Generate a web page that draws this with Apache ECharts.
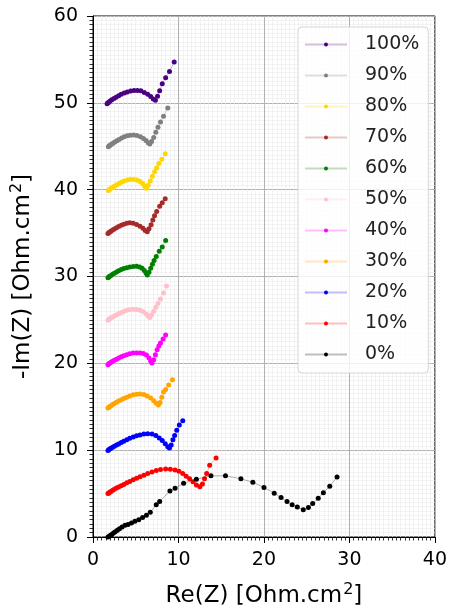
<!DOCTYPE html>
<html>
<head>
<meta charset="utf-8">
<script src="https://cdn.jsdelivr.net/npm/echarts@6/dist/echarts.min.js"></script>
<style>
html,body{margin:0;padding:0;background:#fff;}
#chart{width:450px;height:614px;}
</style>
</head>
<body>
<div id="chart"></div>
<script>
// ---- Data (Re(Z), -Im(Z)) ----
const seriesNames = ['100%','90%','80%','70%','60%','50%','40%','30%','20%','10%','0%'];
const seriesColors = ['#4b0082','#808080','#ffd700','#a52a2a','#008000','#ffc0cb','#ff00ff','#ffa500','#0000ff','#ff0000','#000000'];

const s100 = [[1.65,49.9],[1.75,50.0],[1.85,50.08],[2.0,50.2],[2.2,50.35],[2.45,50.5],[2.7,50.65],[3.0,50.82],[3.3,50.98],[3.65,51.12],[4.0,51.25],[4.4,51.35],[4.8,51.42],[5.2,51.42],[5.6,51.38],[6.0,51.2],[6.4,51.0],[6.75,50.72],[7.05,50.45],[7.3,50.3],[7.55,50.75],[7.8,51.4],[8.1,52.2],[8.5,52.9],[8.95,53.6],[9.5,54.7]];
const s90 = [[1.8,44.95],[1.9,45.05],[2.0,45.12],[2.15,45.22],[2.35,45.35],[2.55,45.48],[2.8,45.62],[3.05,45.78],[3.35,45.95],[3.65,46.08],[4.0,46.2],[4.35,46.28],[4.75,46.3],[5.15,46.25],[5.55,46.1],[5.9,45.9],[6.2,45.65],[6.45,45.4],[6.65,45.25],[6.85,45.55],[7.1,46.0],[7.35,46.6],[7.6,47.2],[7.9,47.8],[8.25,48.45],[8.75,49.4]];
const s80 = [[1.8,39.9],[1.9,40.0],[2.0,40.08],[2.15,40.18],[2.35,40.3],[2.55,40.42],[2.8,40.58],[3.05,40.72],[3.35,40.88],[3.65,41.0],[4.0,41.12],[4.35,41.18],[4.75,41.18],[5.15,41.1],[5.5,40.95],[5.8,40.7],[6.05,40.4],[6.25,40.15],[6.45,40.5],[6.7,41.0],[6.95,41.55],[7.2,42.05],[7.45,42.5],[7.7,43.0],[8.05,43.5],[8.45,44.15]];
const s70 = [[1.75,34.95],[1.85,35.05],[1.95,35.12],[2.1,35.22],[2.3,35.35],[2.5,35.48],[2.75,35.6],[3.0,35.75],[3.3,35.9],[3.6,36.02],[3.95,36.12],[4.3,36.18],[4.7,36.12],[5.1,35.98],[5.5,35.8],[5.85,35.55],[6.1,35.3],[6.35,35.15],[6.55,35.5],[6.8,35.95],[7.0,36.5],[7.2,37.0],[7.45,37.5],[7.8,38.1],[8.1,38.5],[8.45,38.95]];
const s60 = [[1.75,29.85],[1.85,29.95],[1.95,30.02],[2.1,30.12],[2.3,30.25],[2.5,30.38],[2.75,30.52],[3.0,30.65],[3.3,30.8],[3.6,30.92],[3.95,31.02],[4.3,31.1],[4.7,31.15],[5.1,31.18],[5.45,31.1],[5.75,30.95],[6.0,30.7],[6.2,30.4],[6.35,30.18],[6.55,30.5],[6.75,30.95],[6.95,31.4],[7.15,31.85],[7.4,32.3],[7.75,32.9],[8.1,33.4],[8.5,34.15]];
const s50 = [[1.75,24.95],[1.85,25.05],[1.95,25.12],[2.1,25.22],[2.3,25.35],[2.5,25.45],[2.75,25.58],[3.0,25.7],[3.3,25.85],[3.6,25.98],[3.95,26.1],[4.3,26.18],[4.7,26.22],[5.1,26.2],[5.5,26.12],[5.9,25.95],[6.25,25.65],[6.5,25.38],[6.65,25.28],[6.85,25.6],[7.1,26.0],[7.35,26.45],[7.6,26.9],[7.9,27.4],[8.25,28.1],[8.6,28.9]];
const s40 = [[1.75,19.85],[1.85,19.95],[1.95,20.02],[2.1,20.12],[2.3,20.25],[2.5,20.35],[2.75,20.48],[3.0,20.6],[3.3,20.75],[3.6,20.88],[3.95,21.0],[4.3,21.1],[4.7,21.18],[5.1,21.2],[5.5,21.2],[5.9,21.12],[6.25,20.95],[6.55,20.6],[6.75,20.25],[6.9,20.05],[7.1,20.4],[7.3,21.0],[7.5,21.55],[7.7,22.0],[7.9,22.35],[8.2,22.8],[8.5,23.25]];
const s30 = [[1.75,14.85],[1.85,14.95],[1.95,15.02],[2.1,15.12],[2.3,15.25],[2.5,15.38],[2.75,15.52],[3.0,15.65],[3.3,15.8],[3.6,15.95],[3.95,16.1],[4.3,16.25],[4.7,16.38],[5.1,16.45],[5.5,16.48],[5.95,16.42],[6.35,16.25],[6.75,16.0],[7.1,15.7],[7.4,15.4],[7.65,15.2],[7.85,15.5],[8.05,16.1],[8.25,16.7],[8.5,17.0],[8.85,17.5],[9.3,18.1]];
const s20 = [[1.75,9.95],[1.85,10.05],[1.95,10.12],[2.1,10.22],[2.3,10.35],[2.5,10.45],[2.75,10.6],[3.0,10.72],[3.3,10.88],[3.6,11.02],[3.95,11.2],[4.3,11.38],[4.7,11.52],[5.1,11.65],[5.5,11.75],[5.95,11.85],[6.4,11.9],[6.9,11.85],[7.35,11.7],[7.75,11.4],[8.1,11.1],[8.45,10.75],[8.75,10.4],[8.95,10.25],[9.15,10.6],[9.35,11.2],[9.55,11.7],[9.8,12.3],[10.1,12.9],[10.5,13.4]];
const s10 = [[1.75,5.0],[1.85,5.08],[1.95,5.15],[2.1,5.25],[2.3,5.38],[2.5,5.5],[2.75,5.65],[3.0,5.75],[3.3,5.9],[3.6,6.05],[3.95,6.25],[4.3,6.4],[4.7,6.6],[5.1,6.78],[5.5,6.95],[5.95,7.1],[6.4,7.3],[6.9,7.5],[7.4,7.65],[7.9,7.78],[8.5,7.82],[9.05,7.8],[9.6,7.72],[10.05,7.58],[10.5,7.3],[10.9,7.0],[11.3,6.7],[11.7,6.35],[12.1,6.0],[12.5,5.8],[12.8,6.1],[13.05,6.7],[13.3,7.3],[13.65,8.25],[14.4,9.1]];
const s0 = [[1.75,0.0],[1.9,0.1],[2.05,0.2],[2.2,0.3],[2.4,0.45],[2.6,0.6],[2.85,0.78],[3.1,0.95],[3.4,1.15],[3.75,1.35],[4.1,1.45],[4.5,1.6],[4.9,1.8],[5.35,2.0],[5.8,2.25],[6.25,2.5],[6.7,2.85],[7.4,3.7],[7.8,4.1],[9.0,5.3],[9.6,5.6],[10.6,6.2],[12.1,6.65],[13.8,7.05],[15.5,7.05],[17.3,6.7],[18.7,6.3],[20.0,5.7],[21.2,5.05],[22.0,4.55],[22.7,4.1],[23.3,3.7],[23.9,3.45],[24.6,3.15],[25.2,3.4],[25.7,3.85],[26.35,4.45],[26.95,5.1],[27.7,5.85],[28.55,6.9]];

const seriesData = [s100,s90,s80,s70,s60,s50,s40,s30,s20,s10,s0];

const xTicks = {min:0, max:40, interval:10};
const yTicks = {min:0, max:60, interval:10};

const FONT = 'DejaVu Sans';

const chart = echarts.init(document.getElementById('chart'), null, {renderer:'canvas'});

const series = seriesNames.map((n,i)=>({
  name:n,
  type:'line',
  data:seriesData[i],
  symbol:'circle',
  symbolSize:5,
  showSymbol:true,
  animation:false,
  itemStyle:{color:seriesColors[i], opacity:1},
  lineStyle:{color:seriesColors[i], width:1, opacity:0.3},
  emphasis:{disabled:true},
  z:2+i
}));

const axisCommon = {
  type:'value',
  axisLine:{show:true, onZero:false, lineStyle:{color:'#000', width:1}},
  axisTick:{show:true, length:6, lineStyle:{color:'#000', width:1}},
  minorTick:{show:true, splitNumber:20, length:3.5, lineStyle:{color:'#000', width:0.8}},
  splitLine:{show:true, lineStyle:{color:'#b0b0b0', width:1}},
  minorSplitLine:{show:true, lineStyle:{color:'#ebebeb', width:0.6}},
  axisLabel:{color:'#000', fontSize:19, fontFamily:FONT}
};

const supRich = {sup:{fontSize:16, fontFamily:FONT, color:'#000', verticalAlign:'top', padding:[0,0,12,1]}};

chart.setOption({
  backgroundColor:'#fff',
  animation:false,
  grid:{left:93, right:11, top:16, bottom:77, show:true, borderColor:'#000', borderWidth:1, backgroundColor:'transparent'},
  legend:{
    orient:'vertical',
    left:298, top:27,
    data:seriesNames,
    itemWidth:42, itemHeight:5,
    itemGap:12,
    padding:[8,9,9,6],
    backgroundColor:'rgba(255,255,255,0.8)',
    borderColor:'#d6d6d6', borderWidth:1, borderRadius:4,
    textStyle:{color:'#222', fontSize:19, lineHeight:19, fontFamily:FONT, padding:[0,0,0,13]},
    itemStyle:{opacity:1},
    lineStyle:{opacity:0.25, width:2},
    selectedMode:false
  },
  xAxis:Object.assign({}, axisCommon, {
    min:xTicks.min, max:xTicks.max, interval:xTicks.interval,
    axisLabel:Object.assign({}, axisCommon.axisLabel, {margin:14}),
    name:'Re(Z) [Ohm.cm{sup|2}]',
    nameLocation:'middle', nameGap:45,
    nameTextStyle:{color:'#000', fontSize:23, fontFamily:FONT, rich:supRich}
  }),
  yAxis:Object.assign({}, axisCommon, {
    min:yTicks.min, max:yTicks.max, interval:yTicks.interval,
    axisLabel:Object.assign({}, axisCommon.axisLabel, {margin:15}),
    name:'-Im(Z) [Ohm.cm{sup|2}]',
    nameLocation:'middle', nameGap:56, nameRotate:90,
    nameTextStyle:{color:'#000', fontSize:23, fontFamily:FONT, rich:supRich}
  }),
  series:series
});
</script>
</body>
</html>
